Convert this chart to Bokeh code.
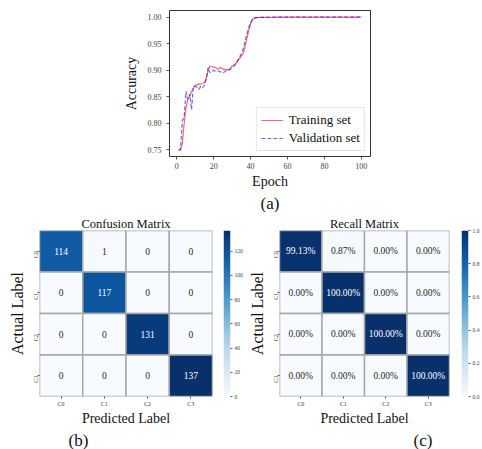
import numpy as np
from bokeh.plotting import figure
from bokeh.layouts import column, row
from bokeh.models import (Range1d, FactorRange, LinearColorMapper, FixedTicker,
                          LinearAxis, Title, Legend, LegendItem, Spacer,
                          ColumnDataSource, NumeralTickFormatter)
from bokeh.palettes import Blues256
from bokeh.core.properties import value
from bokeh.embed import file_html
from bokeh.resources import INLINE

FONT = "Liberation Serif"

# ---- training history -------------------------------------------------------
epochs = list(range(1, 101))
train_acc = [
    0.750, 0.751, 0.762, 0.800, 0.830, 0.845, 0.850, 0.860, 0.866, 0.871,
    0.873, 0.874, 0.874, 0.875, 0.877, 0.885, 0.900, 0.908, 0.907, 0.906,
    0.905, 0.902, 0.904, 0.905, 0.902, 0.901, 0.901, 0.901, 0.904, 0.908,
    0.910, 0.913, 0.917, 0.922, 0.927, 0.932, 0.945, 0.960, 0.975, 0.988,
    0.995, 0.998, 0.999, 0.9993, 0.9995, 0.9996, 0.9997, 0.9997, 0.9998, 0.9998,
    0.9998, 0.9999, 0.9999, 0.9999, 0.9999, 0.9999, 1.000, 1.000, 1.000, 1.000,
    1.000, 1.000, 1.000, 1.000, 1.000, 1.000, 1.000, 1.000, 1.000, 1.000,
    1.000, 1.000, 1.000, 1.000, 1.000, 1.000, 1.000, 1.000, 1.000, 1.000,
    1.000, 1.000, 1.000, 1.000, 1.000, 1.000, 1.000, 1.000, 1.000, 1.000,
    1.000, 1.000, 1.000, 1.000, 1.000, 1.000, 1.000, 1.000, 1.000, 1.000,
]
val_acc = [
    0.750, 0.750, 0.805, 0.812, 0.860, 0.845, 0.855, 0.826, 0.870, 0.870,
    0.868, 0.864, 0.870, 0.867, 0.872, 0.885, 0.905, 0.895, 0.898, 0.900,
    0.898, 0.899, 0.898, 0.896, 0.895, 0.897, 0.900, 0.900, 0.902, 0.905,
    0.908, 0.912, 0.918, 0.925, 0.931, 0.940, 0.955, 0.968, 0.980, 0.990,
    0.996, 0.998, 0.999, 0.9993, 0.9995, 0.9995, 0.9996, 0.9996, 0.9997, 0.9997,
    0.9998, 0.9997, 0.9998, 0.9999, 0.9998, 0.9999, 0.9999, 0.9998, 0.9999, 1.000,
    0.9999, 1.000, 0.9998, 1.000, 0.9999, 1.000, 1.000, 0.9999, 1.000, 1.000,
    1.000, 0.9998, 1.000, 1.000, 0.9999, 1.000, 1.000, 1.000, 0.9999, 1.000,
    1.000, 1.000, 0.9998, 1.000, 1.000, 1.000, 0.9999, 1.000, 1.000, 1.000,
    1.000, 1.000, 0.9997, 1.000, 1.000, 1.000, 1.000, 1.000, 1.000, 1.000,
]
acc_ticks = [0.75, 0.80, 0.85, 0.90, 0.95, 1.00]
epoch_ticks = [0, 20, 40, 60, 80, 100]

# ---- classification results -------------------------------------------------
classes = ["C0", "C1", "C2", "C3"]
conf = [
    [114, 1, 0, 0],
    [0, 117, 0, 0],
    [0, 0, 131, 0],
    [0, 0, 0, 137],
]
count_ticks = [0, 20, 40, 60, 80, 100, 120]
recall_ticks = [0.0, 0.2, 0.4, 0.6, 0.8, 1.0]

BLUES = list(reversed(Blues256))
ROW2_H = 237
INK = "#111111"


def style_axis(ax, size="8px"):
    ax.major_label_text_font = FONT
    ax.major_label_text_font_size = size
    ax.major_label_text_color = "#444444"
    ax.axis_label_text_font = FONT
    ax.axis_label_text_font_style = "normal"
    ax.axis_label_text_color = INK
    ax.axis_line_color = None
    ax.major_tick_line_color = "#555555"
    ax.minor_tick_line_color = None
    ax.major_tick_in = 0


# ---- (a) accuracy curves ----------------------------------------------------
pa = figure(width=282, height=212, output_backend="svg", toolbar_location=None,
            x_range=Range1d(-3.95, 104.95), y_range=Range1d(0.7375, 1.0125),
            min_border_left=69, min_border_right=12, min_border_top=10,
            min_border_bottom=53)
pa.outline_line_color = "#333333"
pa.grid.visible = False
r_tr = pa.line(epochs, train_acc, color="red", alpha=0.6, line_width=1.2)
r_va = pa.line(epochs, val_acc, color="blue", alpha=0.6, line_width=1.2,
               line_dash="4 2")
pa.xaxis.ticker = FixedTicker(ticks=epoch_ticks)
pa.yaxis.ticker = FixedTicker(ticks=acc_ticks)
for ax in (pa.xaxis[0], pa.yaxis[0]):
    style_axis(ax)
    ax.major_tick_out = 3
    ax.axis_label_text_font_size = "14px"
pa.yaxis.formatter = NumeralTickFormatter(format="0.00")
pa.xaxis.axis_label = "Epoch"
pa.yaxis.axis_label = "Accuracy"
pa.xaxis.axis_label_standoff = 2
pa.yaxis.axis_label_standoff = 6
pa.xaxis.major_label_standoff = 3
legend = Legend(items=[LegendItem(label="Training set", renderers=[r_tr]),
                       LegendItem(label="Validation set", renderers=[r_va])],
                location="bottom_right", label_text_font=FONT,
                label_text_font_size="13px", label_text_color=INK,
                glyph_width=22, glyph_height=12, spacing=2, padding=4, margin=5,
                label_height=14, label_standoff=6,
                border_line_color="#cccccc", background_fill_alpha=0.9)
pa.add_layout(legend, "center")
pa.add_layout(Title(text="(a)", text_font=FONT, text_font_size="17px",
                    text_font_style="normal", text_color=INK,
                    align="center", standoff=0), "below")


# ---- heat-map panels --------------------------------------------------------
def heatmap(values, labels, title, low, high, frame_l, frame_w, frame_t,
            frame_h, total_w, tag, tag_offset, text_threshold):
    mapper = LinearColorMapper(palette=BLUES, low=low, high=high)
    xs, ys, vs, txt, tcol = [], [], [], [], []
    for i, actual in enumerate(classes):
        for j, pred in enumerate(classes):
            v = values[i][j]
            xs.append(pred)
            ys.append(actual)
            vs.append(v)
            txt.append(labels[i][j])
            tcol.append("white" if v > text_threshold else "#262626")
    src = ColumnDataSource(dict(x=xs, y=ys, v=vs, t=txt, c=tcol))
    p = figure(width=total_w, height=ROW2_H, output_backend="svg",
               toolbar_location=None,
               x_range=FactorRange(*classes),
               y_range=FactorRange(*reversed(classes)),
               min_border_left=frame_l, min_border_right=total_w - frame_l - frame_w,
               min_border_top=frame_t, min_border_bottom=ROW2_H - frame_t - frame_h)
    p.outline_line_color = None
    p.grid.visible = False
    p.rect("x", "y", width=1, height=1, source=src,
           fill_color={"field": "v", "transform": mapper},
           line_color="#a8a8a8", line_width=1.5)
    p.text("x", "y", text="t", source=src, text_color="c",
           text_font=value(FONT), text_font_size="9.5px",
           text_align="center", text_baseline="middle")
    for ax in (p.xaxis[0], p.yaxis[0]):
        style_axis(ax, "6px")
        ax.major_tick_out = 2
        ax.major_label_standoff = 2
        ax.axis_label_standoff = 1
    p.xaxis.axis_label = "Predicted Label"
    p.xaxis.axis_label_text_font_size = "14px"
    p.yaxis.axis_label = "Actual Label"
    p.yaxis.axis_label_text_font_size = "16px"
    p.yaxis.major_label_orientation = np.pi / 2
    p.title.text = title
    p.title.text_font = FONT
    p.title.text_font_size = "12.5px"
    p.title.text_font_style = "normal"
    p.title.text_color = INK
    p.title.align = "center"
    p.title.standoff = 0
    p.add_layout(Title(text=tag, text_font=FONT, text_font_size="17px",
                       text_font_style="normal", text_color=INK, align="left",
                       offset=tag_offset, standoff=0), "below")
    return p, mapper


def colorbar(mapper, ticks, high, frame_t, total_w, fmt):
    cb = figure(width=total_w, height=ROW2_H, output_backend="svg",
                toolbar_location=None, x_range=Range1d(0, 1),
                y_range=Range1d(0, high), min_border_left=8,
                min_border_right=total_w - 18, min_border_top=frame_t,
                min_border_bottom=ROW2_H - 200)
    cb.outline_line_color = None
    cb.grid.visible = False
    cb.xaxis.visible = False
    cb.yaxis.visible = False
    grad = np.linspace(0, high, 256).reshape(-1, 1)
    cb.image(image=[grad], x=0, y=0, dw=1, dh=high, color_mapper=mapper)
    ax = LinearAxis(ticker=FixedTicker(ticks=ticks))
    style_axis(ax, "5.5px")
    ax.major_tick_out = 2
    ax.major_label_standoff = 2
    ax.formatter = NumeralTickFormatter(format=fmt)
    cb.add_layout(ax, "right")
    return cb


counts = [[str(v) for v in r] for r in conf]
cmax = max(max(r) for r in conf)
pb, map_b = heatmap(conf, counts, "Confusion Matrix", 0, cmax,
                    39, 173, 18, 172, 215, "(b)", 29, cmax / 2)
cbb = colorbar(map_b, count_ticks, cmax, 11, 30, "0")

recall = [[v / sum(r) for v in r] for r in conf]
recall_txt = [["%.2f%%" % (100 * v) for v in r] for r in recall]
pc, map_c = heatmap(recall, recall_txt, "Recall Matrix", 0, 1,
                    27, 177, 12, 177, 208, "(c)", 134, 0.5)
cbc = colorbar(map_c, recall_ticks, 1, 7, 29, "0.0")

layout = column(row(Spacer(width=100, height=212), pa),
                row(pb, cbb, pc, cbc), spacing=0)

open("out.html", "w").write(file_html(layout, INLINE))
